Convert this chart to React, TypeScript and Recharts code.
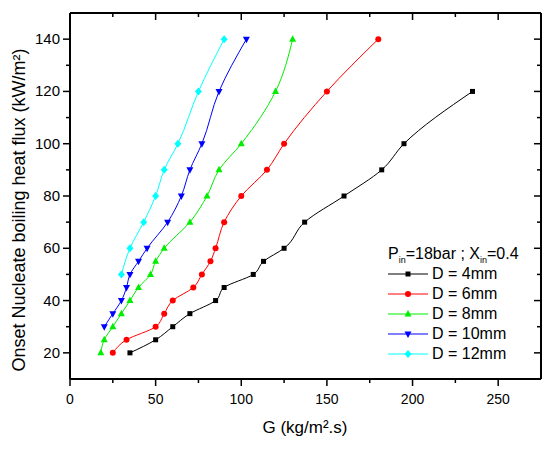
import { LineChart, Line, XAxis, YAxis } from "recharts"

// G (kg/m².s) and onset nucleate boiling heat flux (kW/m²)
const g4 = [35, 50, 60, 70, 85, 90, 107, 113, 125, 137, 160, 182, 195, 235]
const q4 = [20, 25, 30, 35, 40, 45, 50, 55, 60, 70, 80, 90, 100, 120]
const g6 = [25, 33, 50, 55, 60, 72, 77, 82, 85, 90, 100, 115, 125, 150, 180]
const q6 = [20, 25, 30, 35, 40, 45, 50, 55, 60, 70, 80, 90, 100, 120, 140]
const g8 = [18, 20, 25, 30, 35, 40, 47, 50, 55, 70, 80, 87, 100, 120, 130]
const q8 = [20, 25, 30, 35, 40, 45, 50, 55, 60, 70, 80, 90, 100, 120, 140]
const g10 = [20, 25, 30, 33, 35, 40, 45, 57, 65, 70, 77, 87, 103]
const q10 = [30, 35, 40, 45, 50, 55, 60, 70, 80, 90, 100, 120, 140]
const g12 = [30, 35, 43, 50, 55, 63, 75, 90]
const q12 = [50, 60, 70, 80, 90, 100, 120, 140]

const xTicks = [0, 25, 50, 75, 100, 125, 150, 175, 200, 225, 250]
const yTicks = [20, 30, 40, 50, 60, 70, 80, 90, 100, 110, 120, 130, 140]

const toPoints = (g: number[], q: number[]) => g.map((v, i) => ({ g: v, q: q[i] }))

const series = [
  { name: "D = 4mm", color: "#000000", shape: "square", data: toPoints(g4, q4) },
  { name: "D = 6mm", color: "#ff0000", shape: "circle", data: toPoints(g6, q6) },
  { name: "D = 8mm", color: "#00ee00", shape: "up", data: toPoints(g8, q8) },
  { name: "D = 10mm", color: "#0000ff", shape: "down", data: toPoints(g10, q10) },
  { name: "D = 12mm", color: "#00ffff", shape: "diamond", data: toPoints(g12, q12) },
]

const FONT = "'Liberation Sans', Arial, sans-serif"

function Marker({ shape, cx, cy, color }: { shape: string; cx: number; cy: number; color: string }) {
  if (cx == null || cy == null) return null
  if (shape === "square") return <rect x={cx - 2.5} y={cy - 2.5} width={5} height={5} fill={color} />
  if (shape === "circle") return <circle cx={cx} cy={cy} r={3} fill={color} />
  if (shape === "up")
    return <polygon points={`${cx},${cy - 4} ${cx - 3.5},${cy + 2.5} ${cx + 3.5},${cy + 2.5}`} fill={color} />
  if (shape === "down")
    return <polygon points={`${cx},${cy + 4} ${cx - 3.5},${cy - 2.5} ${cx + 3.5},${cy - 2.5}`} fill={color} />
  return <polygon points={`${cx},${cy - 4} ${cx + 3.5},${cy} ${cx},${cy + 4} ${cx - 3.5},${cy}`} fill={color} />
}

const BottomTick = ({ x, y, payload }: any) => {
  const major = payload.value % 50 === 0
  return (
    <g>
      <line x1={x} y1={y} x2={x} y2={y + (major ? 7 : 4)} stroke="#000" strokeWidth={1.5} />
      {major && (
        <text x={x} y={y + 25} textAnchor="middle" fontSize={14} fontFamily={FONT} fill="#000">
          {payload.value}
        </text>
      )}
    </g>
  )
}

const TopTick = ({ x, y, payload }: any) => {
  const major = payload.value % 50 === 0
  return <line x1={x} y1={y} x2={x} y2={y + (major ? 7 : 4)} stroke="#000" strokeWidth={1.5} />
}

const LeftTick = ({ x, y, payload }: any) => {
  const major = payload.value % 20 === 0
  return (
    <g>
      <line x1={x - (major ? 7 : 4)} y1={y} x2={x} y2={y} stroke="#000" strokeWidth={1.5} />
      {major && (
        <text x={x - 10} y={y + 5} textAnchor="end" fontSize={15} fontFamily={FONT} fill="#000">
          {payload.value}
        </text>
      )}
    </g>
  )
}

const RightTick = ({ x, y, payload }: any) => {
  const major = payload.value % 20 === 0
  return <line x1={x - (major ? 7 : 4)} y1={y} x2={x} y2={y} stroke="#000" strokeWidth={1.5} />
}

function LegendBox() {
  return (
    <div style={{ position: "absolute", left: 388, top: 244, fontFamily: FONT, fontSize: 16, color: "#000" }}>
      <div style={{ height: 20, lineHeight: "20px", whiteSpace: "nowrap" }}>
        P<sub style={{ fontSize: 9 }}>in</sub>=18bar ; X<sub style={{ fontSize: 9 }}>in</sub>=0.4
      </div>
      {series.map((s) => (
        <div key={s.name} style={{ height: 20, display: "flex", alignItems: "center", whiteSpace: "nowrap" }}>
          <svg width={40} height={20} style={{ marginRight: 4 }}>
            <line x1={0} y1={10} x2={40} y2={10} stroke={s.color} strokeWidth={1} />
            <Marker shape={s.shape} cx={20} cy={10} color={s.color} />
          </svg>
          <span>{s.name}</span>
        </div>
      ))}
    </div>
  )
}

export default function App() {
  return (
    <div style={{ position: "absolute", left: 0, top: 0, width: 550, height: 450, background: "#fff" }}>
      <LineChart width={550} height={450} margin={{ top: 13, right: 9, left: 0, bottom: 0 }}>
        <XAxis
          type="number"
          dataKey="g"
          domain={[0, 275]}
          ticks={xTicks}
          interval={0}
          height={71}
          tickSize={0}
          tickMargin={0}
          tick={BottomTick}
          axisLine={{ stroke: "#000", strokeWidth: 2 }}
          allowDataOverflow
          label={{
            content: () => (
              <text x={305} y={433} textAnchor="middle" fontSize={17} fontFamily={FONT} fill="#000">
                G (kg/m².s)
              </text>
            ),
          }}
        />
        <XAxis
          xAxisId="top"
          orientation="top"
          type="number"
          dataKey="g"
          domain={[0, 275]}
          ticks={xTicks}
          interval={0}
          mirror
          tickSize={0}
          tickMargin={0}
          tick={TopTick}
          axisLine={{ stroke: "#000", strokeWidth: 2 }}
          allowDataOverflow
        />
        <YAxis
          type="number"
          domain={[10, 150]}
          ticks={yTicks}
          interval={0}
          width={70}
          tickSize={0}
          tickMargin={0}
          tick={LeftTick}
          axisLine={{ stroke: "#000", strokeWidth: 2 }}
          allowDataOverflow
          label={{
            content: () => (
              <text
                x={25}
                y={210}
                transform="rotate(-90 25 210)"
                textAnchor="middle"
                fontSize={18}
                fontFamily={FONT}
                fill="#000"
              >
                Onset Nucleate boiling heat flux (kW/m²)
              </text>
            ),
          }}
        />
        <YAxis
          yAxisId="right"
          orientation="right"
          type="number"
          domain={[10, 150]}
          ticks={yTicks}
          interval={0}
          mirror
          tickSize={0}
          tickMargin={0}
          tick={RightTick}
          axisLine={{ stroke: "#000", strokeWidth: 2 }}
          allowDataOverflow
        />
        {series.map((s) => (
          <Line
            key={s.name}
            data={s.data}
            dataKey="q"
            type="monotoneY"
            stroke={s.color}
            strokeWidth={1}
            isAnimationActive={false}
            dot={(p: any) => <Marker key={p.index} shape={s.shape} cx={p.cx} cy={p.cy} color={s.color} />}
            activeDot={false}
          />
        ))}
      </LineChart>
      <LegendBox />
    </div>
  )
}
